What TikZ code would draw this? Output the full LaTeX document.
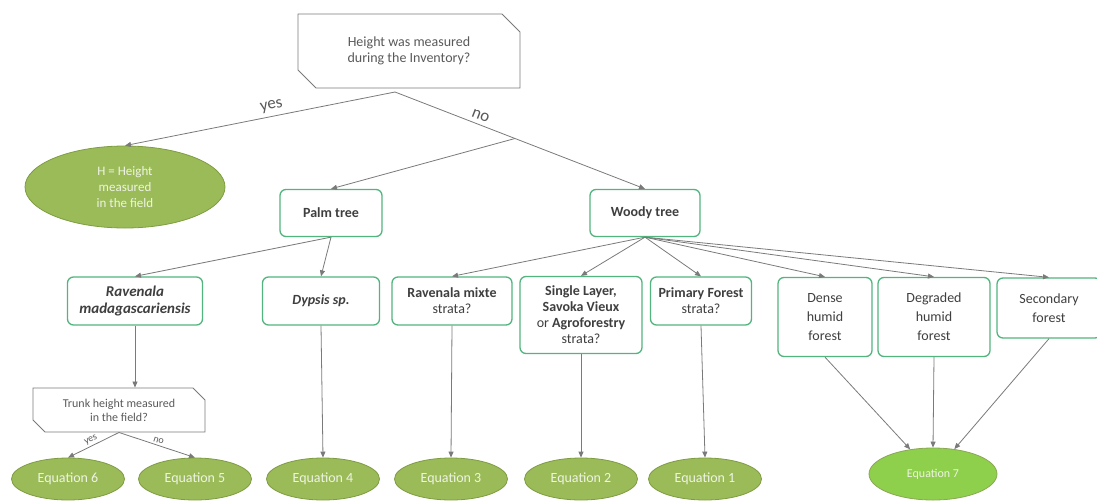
\documentclass[tikz,border=0pt]{standalone}
\usepackage{fontspec}
\setmainfont{Carlito}
\usetikzlibrary{arrows.meta,calc,positioning,shapes.geometric,shapes.misc}
\definecolor{Ink}{HTML}{3F3F3F}
\definecolor{Muted}{HTML}{595959}
\definecolor{Edge}{HTML}{7A7A7A}
\definecolor{Mint}{HTML}{52B57E}
\definecolor{Olive}{HTML}{9BBB59}
\definecolor{OliveDark}{HTML}{7E9C42}
\definecolor{Lime}{HTML}{8ECF4C}
\definecolor{Pale}{HTML}{EEF4E2}

\begin{document}
\begin{tikzpicture}[x=1pt,y=-1pt,
    font=\fontsize{14}{16}\selectfont,
    question/.style={chamfered rectangle,chamfered rectangle corners={north east,south west},
      chamfered rectangle xsep=9pt,chamfered rectangle ysep=9pt,
      draw=Edge,line width=0.9pt,text=Muted,align=center,inner sep=0pt},
    branch/.style={rectangle,rounded corners=6pt,draw=Mint,line width=1.3pt,fill=white,
      text=Ink,align=center,inner sep=2pt},
    leaf/.style={ellipse,draw=OliveDark,fill=Olive,line width=0.8pt,text=Pale,align=center,
      minimum width=113pt,minimum height=42pt,inner sep=0pt},
    link/.style={draw=Edge,line width=0.8pt,-{Triangle[length=6pt,width=5pt]}},
    tag/.style={text=Muted,font=\fontsize{17}{18}\selectfont,inner sep=0pt}]
  \useasboundingbox (0,0) rectangle (1097,501);

  \node[question,minimum width=222pt,minimum height=74pt] (inventory) at (409,51)
    {Height was measured\\during the Inventory?};
  \node[leaf,minimum width=200pt,minimum height=82pt,font=\fontsize{13}{16}\selectfont] (hfield) at (125,187)
    {H = Height\\measured\\in the field};

  \node[branch,minimum width=102pt,minimum height=47pt] (palm) at (331,213) {\textbf{Palm tree}};
  \node[branch,minimum width=110pt,minimum height=47pt] (woody) at (645,213) {\textbf{Woody tree}};

  \node[branch,minimum width=135pt,minimum height=48pt,font=\fontsize{15}{17}\selectfont] (ravmad) at (135,301)
    {\textbf{\textit{Ravenala}}\\\textbf{\textit{madagascariensis}}};
  \node[branch,minimum width=117pt,minimum height=48pt] (dypsis) at (321,301) {\textbf{\textit{Dypsis sp.}}};
  \node[branch,minimum width=120pt,minimum height=48pt] (ravmix) at (452,301) {\textbf{Ravenala mixte}\\strata?};
  \node[branch,minimum width=122pt,minimum height=77pt] (single) at (581,315)
    {\textbf{Single Layer,}\\\textbf{Savoka Vieux}\\or \textbf{Agroforestry}\\strata?};
  \node[branch,minimum width=101pt,minimum height=48pt] (primary) at (701,301) {\textbf{Primary Forest}\\strata?};
  \node[branch,minimum width=94pt,minimum height=79pt,font=\fontsize{14}{19}\selectfont] (dense) at (825,317)
    {Dense\\humid\\forest};
  \node[branch,minimum width=112pt,minimum height=79pt,font=\fontsize{14}{19}\selectfont] (degraded) at (934,317)
    {Degraded\\humid\\forest};
  \node[branch,minimum width=104pt,minimum height=60pt,font=\fontsize{14}{19}\selectfont] (secondary) at (1049,308)
    {Secondary\\forest};

  \node[question,minimum width=172pt,minimum height=44pt,chamfered rectangle xsep=6pt,
    chamfered rectangle ysep=6pt,font=\fontsize{12}{14}\selectfont] (trunk) at (119,410)
    {Trunk height measured\\in the field?};

  \foreach \name/\num/\x in {eqsix/6/68,eqfive/5/195,eqfour/4/323,eqthree/3/451,eqtwo/2/581,eqone/1/705}
    \node[leaf] (\name) at (\x,479) {Equation \num};
  \node[leaf,fill=Lime,draw=OliveDark!90,minimum width=128pt,minimum height=52pt,
    font=\fontsize{12}{14}\selectfont] (eqseven) at (933,474) {Equation 7};

  \coordinate (fork) at (395,92);
  \coordinate (split) at ($(fork)!0.48!(woody.north)$);
  \draw[link] (fork) -- node[tag,above=4pt,sloped,pos=0.45] {yes} (hfield.north);
  \draw[link] (fork) -- node[tag,above=4pt,sloped,pos=0.33] {no} (woody.north);
  \draw[link] (split) -- (palm.north);

  \draw[link] (palm.south) -- (ravmad.north);
  \draw[link] (palm.south) -- (dypsis.north);
  \foreach \dest in {ravmix,single,primary,dense,degraded,secondary}
    \draw[link] (woody.south) -- (\dest.north);

  \draw[link] (ravmad.south) -- (ravmad.south |- trunk.north);
  \draw[link] (trunk.south) -- node[tag,above=2pt,sloped,font=\fontsize{10}{11}\selectfont] {yes} (eqsix.north);
  \draw[link] (trunk.south) -- node[tag,above=2pt,sloped,font=\fontsize{10}{11}\selectfont] {no} (eqfive.north);
  \draw[link] (dypsis.south) -- (eqfour.north);
  \draw[link] (ravmix.south) -- (eqthree.north);
  \draw[link] (single.south) -- (eqtwo.north);
  \draw[link] (primary.south) -- (eqone.north);

  \draw[link] (dense.south) -- (eqseven);
  \draw[link] (degraded.south) -- (eqseven.north);
  \draw[link] (secondary.south) -- (eqseven);
\end{tikzpicture}
\end{document}
